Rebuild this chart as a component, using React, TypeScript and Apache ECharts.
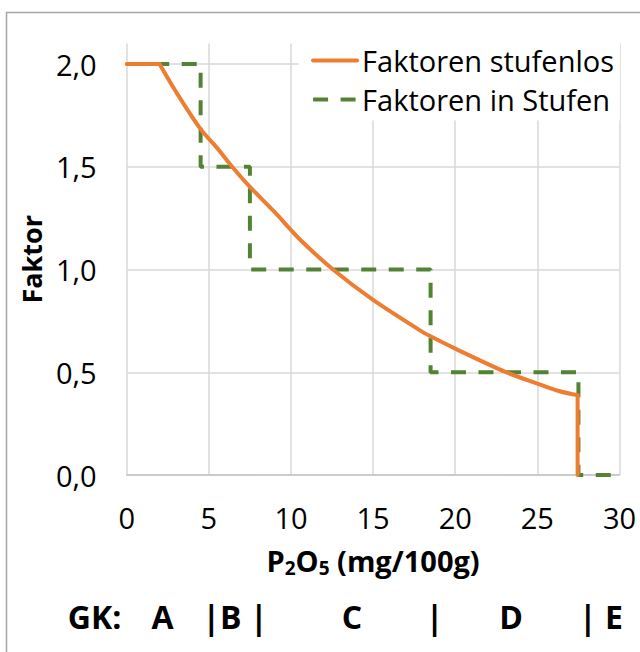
import React, { useEffect, useRef } from "react";
import * as echarts from "echarts";

// Continuous factor curve ("Faktoren stufenlos")
const curveX = [0, 2, 3, 4.5, 5.5, 6.42, 7.5, 9, 10.5, 12.56, 15, 17.85, 18.5, 20, 23.1, 25, 26.3, 27.45, 27.45];
const curveY = [2, 2, 1.865, 1.683, 1.592, 1.5, 1.402, 1.28, 1.15, 1.0, 0.852, 0.704, 0.675, 0.615, 0.5, 0.445, 0.409, 0.388, 0];

// Stepped factors ("Faktoren in Stufen")
const stepX = [0, 4.5, 4.5, 7.5, 7.5, 18.5, 18.5, 27.5, 27.5, 30];
const stepY = [2, 2, 1.5, 1.5, 1, 1, 0.5, 0.5, 0, 0];

const seriesNames = ["Faktoren stufenlos", "Faktoren in Stufen"];
const yTitle = "Faktor";
const gkLabels = ["GK:", "A", "|B |", "C", "|", "D", "| E"];

const FONT = "'Open Sans', sans-serif";
const ORANGE = "#ED7D31";
const GREEN = "#548235";

export default function App() {
  const ref = useRef<HTMLDivElement>(null);

  useEffect(() => {
    if (!ref.current) return;
    const chart = echarts.init(ref.current, undefined, { renderer: "svg" });

    const gkCenters = [94.5, 162.5, 235, 352, 434.5, 511, 601];

    const pts = curveX.map((x, i) => [x, curveY[i]]);
    // flat start (0..2) and the vertical drop are straight; the falling part is smoothed
    const flatPart = pts.slice(0, 2);
    const curvedPart = pts.slice(1, pts.length - 1);
    const dropPart = pts.slice(pts.length - 2);

    const orangeStyle = { color: ORANGE, width: 4, join: "round", cap: "round" };

    const option: any = {
      animation: false,
      backgroundColor: "#fff",
      textStyle: { fontFamily: FONT },
      grid: { left: 126.7, right: 20.5, top: 43.5, bottom: 177, containLabel: false },
      legend: {
        data: [seriesNames[0], seriesNames[1]],
        orient: "vertical",
        right: 20,
        top: 43.5,
        backgroundColor: "#fff",
        padding: [2, 6, 6, 12],
        itemWidth: 44,
        itemHeight: 14,
        itemGap: 9,
        itemTextGap: 4,
        align: "left",
        itemStyle: { color: "transparent", borderWidth: 0, opacity: 0 },
        lineStyle: { width: 4 },
        textStyle: { fontSize: 29, lineHeight: 30, color: "#000", fontFamily: FONT },
      },
      xAxis: {
        type: "value",
        min: 0,
        max: 30,
        interval: 5,
        axisLine: { show: true, lineStyle: { color: "#c4c4c4", width: 1.5 } },
        axisTick: { show: false },
        splitLine: { show: true, lineStyle: { color: "#d9d9d9", width: 1.5 } },
        axisLabel: { fontSize: 29, color: "#000", margin: 28, fontFamily: FONT },
        name: "{a|P}{s|2}{a|O}{s|5}{a| (mg/100g)}",
        nameLocation: "middle",
        nameGap: 68,
        nameTextStyle: {
          rich: {
            a: { fontSize: 29, fontWeight: "bold", color: "#000", lineHeight: 34, fontFamily: FONT },
            s: { fontSize: 19, fontWeight: "bold", color: "#000", lineHeight: 18, verticalAlign: "bottom", fontFamily: FONT },
          },
        },
      },
      yAxis: {
        type: "value",
        min: 0,
        max: 2.1,
        interval: 0.5,
        axisLine: { show: false },
        axisTick: { show: false },
        splitLine: { show: true, showMaxLine: false, lineStyle: { color: "#d9d9d9", width: 1.5 } },
        axisLabel: {
          fontSize: 29,
          color: "#000",
          margin: 30,
          fontFamily: FONT,
          showMaxLabel: false,
          formatter: (v: number) => (Math.abs(v * 2 - Math.round(v * 2)) < 1e-6 ? v.toFixed(1).replace(".", ",") : ""),
        },
        name: yTitle,
        nameLocation: "middle",
        nameRotate: 90,
        nameGap: 82,
        nameTextStyle: { fontSize: 27, fontWeight: "bold", color: "#000", fontFamily: FONT },
      },
      series: [
        {
          name: seriesNames[1],
          type: "line",
          symbol: "none",
          data: stepX.map((x, i) => [x, stepY[i]]),
          lineStyle: { color: GREEN, width: 4, type: [15, 12.5] },
          itemStyle: { color: GREEN },
          z: 2,
        },
        {
          name: seriesNames[0],
          type: "line",
          symbol: "none",
          data: curvedPart,
          smooth: 0.3,
          lineStyle: orangeStyle,
          itemStyle: { color: ORANGE },
          z: 3,
        },
        {
          name: seriesNames[0],
          type: "line",
          symbol: "none",
          data: flatPart,
          lineStyle: orangeStyle,
          itemStyle: { color: ORANGE },
          z: 3,
        },
        {
          name: seriesNames[0],
          type: "line",
          symbol: "none",
          data: dropPart,
          lineStyle: orangeStyle,
          itemStyle: { color: ORANGE },
          z: 3,
        },
      ],
      graphic: [
        {
          type: "rect",
          z: -10,
          silent: true,
          shape: { x: 6.5, y: 12.5, width: 700, height: 700 },
          style: { fill: "none", stroke: "#a6a6a6", lineWidth: 1.5 },
        },
        ...gkLabels.map((t, i) => ({
          type: "text",
          x: gkCenters[i],
          y: 616.5,
          silent: true,
          style: {
            text: t,
            fontSize: 32,
            fontWeight: "bold",
            fontFamily: FONT,
            fill: "#000",
            textAlign: "center",
            textVerticalAlign: "middle",
          },
        })),
      ],
    };

    chart.setOption(option);
    return () => chart.dispose();
  }, []);

  return (
    <div
      ref={ref}
      style={{ position: "absolute", left: 0, top: 0, width: 640, height: 652 }}
    />
  );
}
